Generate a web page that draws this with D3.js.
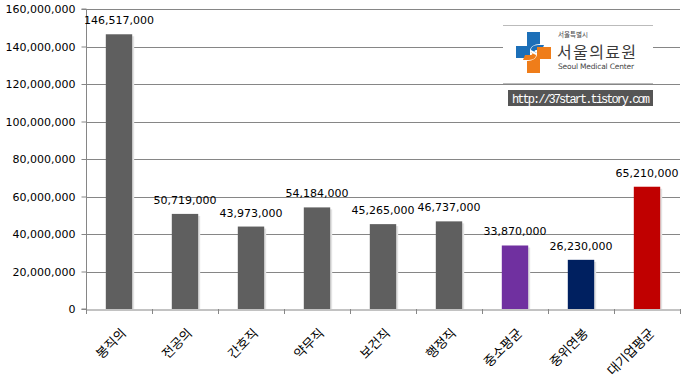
<!DOCTYPE html>
<html><head><meta charset="utf-8">
<script src="https://cdn.jsdelivr.net/npm/d3@7"></script>
<style>body{margin:0;background:#fff}svg{display:block}</style>
</head><body>
<svg id="c" width="688" height="388"></svg>
<script>
const categories = ["봉직의","전공의","간호직","약무직","보건직","행정직","중소평균","중위연봉","대기업평균"];
const values = [146517000,50719000,43973000,54184000,45265000,46737000,33870000,26230000,65210000];
const barColors = ["#5f5f5f","#5f5f5f","#5f5f5f","#5f5f5f","#5f5f5f","#5f5f5f","#7030a0","#002060","#c00000"];
const yTicks = [0,20000000,40000000,60000000,80000000,100000000,120000000,140000000,160000000];

const svg = d3.select("#c");
const m = {left:86, right:680, top:9, bottom:309};
const x = d3.scaleBand().domain(categories).range([m.left,m.right]).paddingInner(0.6).paddingOuter(0.3);
const y = d3.scaleLinear().domain([0,160000000]).range([m.bottom,m.top]);
const fmt = d3.format(",");
const numFont = "'DejaVu Sans', Verdana, sans-serif";

// gridlines
svg.append("g").selectAll("line").data(yTicks.slice(1)).join("line")
  .attr("x1",m.left).attr("x2",m.right).attr("y1",d=>Math.round(y(d))+0.5).attr("y2",d=>Math.round(y(d))+0.5)
  .attr("stroke","#868686").attr("stroke-width",1);

// y axis
const ya = svg.append("g").attr("transform",`translate(${m.left+0.5},0)`)
  .call(d3.axisLeft(y).tickValues(yTicks).tickFormat(fmt).tickSize(5).tickPadding(6));
ya.select(".domain").attr("stroke","#868686").attr("d",`M-5,${m.top}H0V${m.bottom}H-5`);
ya.selectAll(".tick line").attr("stroke","#868686");
ya.selectAll(".tick text").attr("font-family",numFont).attr("font-size",11).attr("fill","#000");

// x axis
const xa = svg.append("g").attr("transform",`translate(0,${m.bottom+0.5})`)
  .call(d3.axisBottom(x).tickSize(0).tickFormat(""));
xa.select(".domain").attr("stroke","#868686");
const step = x.step();
svg.append("g").selectAll("line").data(d3.range(categories.length+1)).join("line")
  .attr("x1",i=>Math.round(m.left+i*step)+0.5).attr("x2",i=>Math.round(m.left+i*step)+0.5)
  .attr("y1",m.bottom).attr("y2",m.bottom+5).attr("stroke","#868686");

// x labels rotated
svg.append("g").selectAll("text").data(categories).join("text")
  .attr("transform",d=>`translate(${x(d)+x.bandwidth()/2+8},${m.bottom+25}) rotate(-45)`)
  .attr("text-anchor","end").attr("font-family","'Noto Sans CJK KR', sans-serif").attr("font-size",13)
  .attr("fill","#000").text(d=>d);

// bars with shadow
const data = categories.map((c,i)=>({c, v:values[i], col:barColors[i]}));
svg.append("g").selectAll("rect").data(data).join("rect")
  .attr("x",d=>x(d.c)+2).attr("y",d=>y(d.v)+2).attr("width",x.bandwidth()).attr("height",d=>m.bottom-y(d.v)-2)
  .attr("fill","#e3e3e3");
svg.append("g").selectAll("rect").data(data).join("rect")
  .attr("x",d=>x(d.c)).attr("y",d=>y(d.v)).attr("width",x.bandwidth()).attr("height",d=>m.bottom-y(d.v))
  .attr("fill",d=>d.col);

// value labels
svg.append("g").selectAll("text").data(data).join("text")
  .attr("x",d=>x(d.c)+x.bandwidth()/2).attr("y",d=>y(d.v)-10)
  .attr("text-anchor","middle").attr("font-family",numFont).attr("font-size",11).attr("fill","#000")
  .text(d=>fmt(d.v));

// logo box
const lg = svg.append("g");
lg.append("rect").attr("x",503).attr("y",25).attr("width",150).attr("height",58).attr("fill","#fff");
lg.append("line").attr("x1",503).attr("x2",653).attr("y1",25.5).attr("y2",25.5).attr("stroke","#bbb");
lg.append("line").attr("x1",503).attr("x2",653).attr("y1",83.5).attr("y2",83.5).attr("stroke","#bbb");
// cross logo
const cl = lg.append("g").attr("transform","translate(2,0)");
cl.append("path").attr("fill","#1c6fb8")
  .attr("d","M525,32 H538 V44 C532,44 528,47 528,51 V58 H514 V46 H525 Z");
cl.append("path").attr("fill","#1c6fb8")
  .attr("d","M529,50 C529,46 533,45 538,45 H542 L540,50 H534 C532,50 532,53 535,53 Z");
cl.append("path").attr("fill","#ef7d1a")
  .attr("d","M538,73 H525 V61 C531,61 535,58 535,54 V47 H549 V59 H538 Z");
cl.append("path").attr("fill","#ef7d1a")
  .attr("d","M534,55 C534,59 530,60 525,60 H521 L523,55 H529 C531,55 531,52 528,52 Z");
lg.append("text").attr("x",558).attr("y",36.5).attr("font-family","'Noto Sans CJK KR', sans-serif").attr("font-size",6.5).attr("fill","#444").text("서울특별시");
lg.append("text").attr("x",557).attr("y",57.5).attr("font-family","'Noto Sans CJK KR', sans-serif").attr("font-size",16).attr("fill","#3a3a3a").attr("textLength",79).text("서울의료원");
lg.append("text").attr("x",558).attr("y",68.5).attr("font-family","'DejaVu Sans', sans-serif").attr("font-size",7.5).attr("fill","#444").attr("textLength",76).text("Seoul Medical Center");
// url box
lg.append("rect").attr("x",508).attr("y",90).attr("width",145).attr("height",16).attr("fill","#555");
lg.append("text").attr("x",512).attr("y",102.5).attr("font-family","'Liberation Mono', 'DejaVu Sans Mono', monospace").attr("font-size",12).attr("fill","#fff").attr("textLength",138).text("http://37start.tistory.com");
</script>
</body></html>
